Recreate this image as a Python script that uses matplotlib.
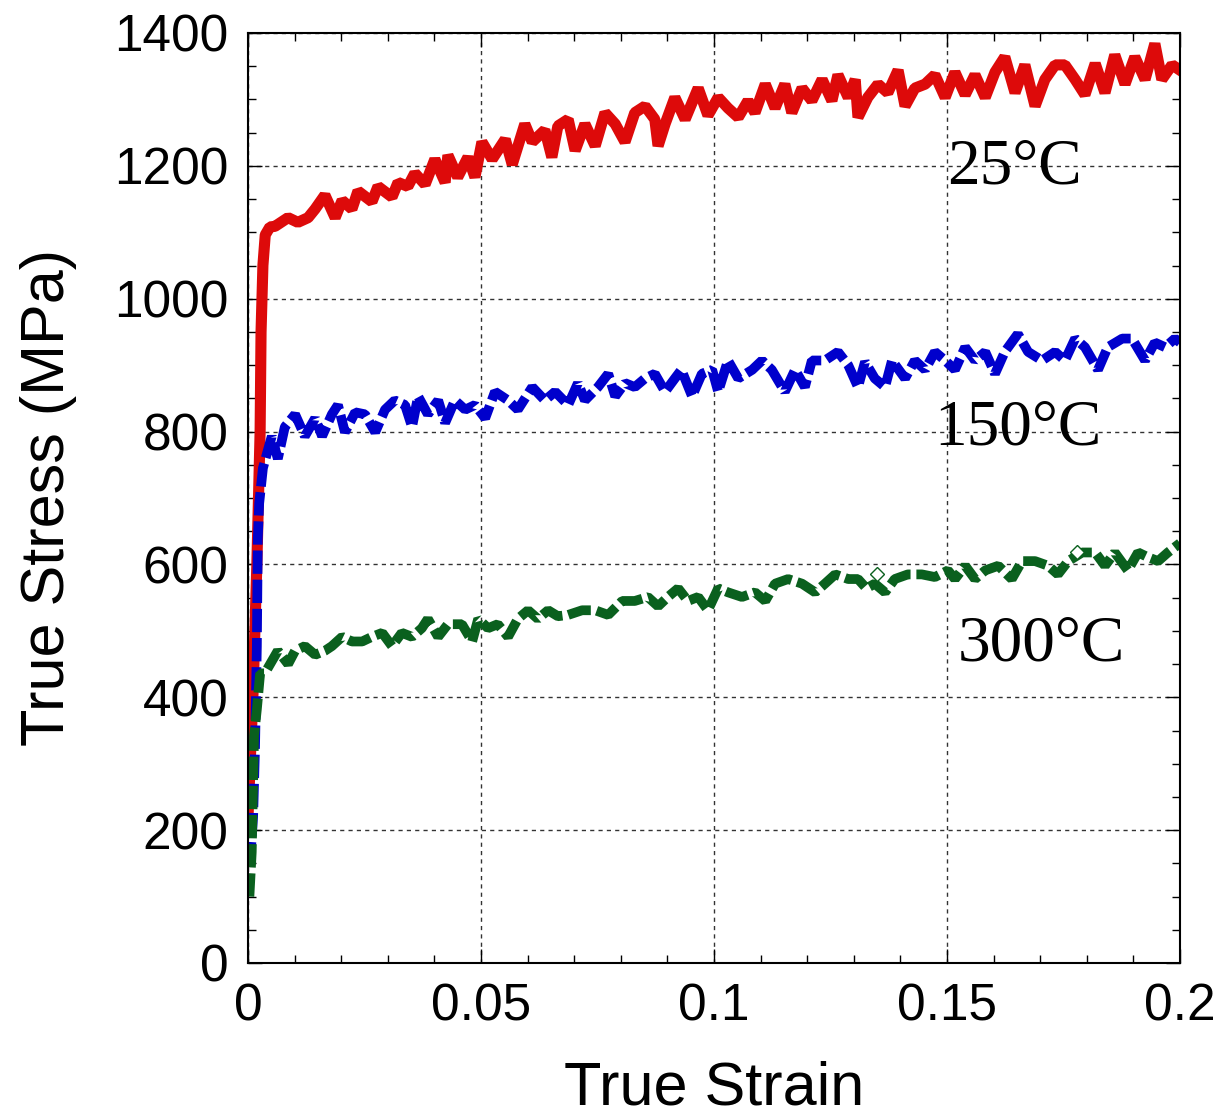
import matplotlib
matplotlib.use("Agg")
import matplotlib.pyplot as plt
from matplotlib.ticker import MultipleLocator

# strain / stress
strain_25 = [0.0, 0.0011, 0.0019, 0.0026, 0.0028, 0.0032, 0.0037, 0.0047, 0.0058, 0.0086,
             0.0107, 0.0129, 0.0144, 0.0165, 0.0187, 0.0202, 0.0223, 0.0236, 0.0266, 0.0279,
             0.0309, 0.0322, 0.0343, 0.0358, 0.038, 0.0401, 0.0423, 0.0429, 0.045, 0.0472,
             0.0487, 0.0502, 0.0524, 0.0552, 0.0567, 0.0594, 0.061, 0.0637, 0.0652, 0.0665,
             0.0687, 0.0702, 0.0723, 0.0745, 0.0766, 0.0788, 0.0809, 0.083, 0.0852, 0.0873,
             0.088, 0.0895, 0.0916, 0.0938, 0.0966, 0.0987, 0.1009, 0.103, 0.1052, 0.1073,
             0.1088, 0.111, 0.1131, 0.1152, 0.1167, 0.1189, 0.121, 0.1232, 0.1253, 0.1266,
             0.1288, 0.1303, 0.1309, 0.133, 0.1352, 0.1373, 0.1395, 0.141, 0.1431, 0.1453,
             0.1474, 0.1496, 0.1517, 0.1539, 0.156, 0.1582, 0.1603, 0.1624, 0.1646, 0.1667,
             0.1689, 0.171, 0.1732, 0.1753, 0.1775, 0.1796, 0.1818, 0.1839, 0.186, 0.1882,
             0.1903, 0.1925, 0.1946, 0.1961, 0.1983, 0.2]
stress_25 = [220, 410, 600, 800, 950, 1050, 1096, 1108, 1109, 1122,
             1115, 1122, 1135, 1156, 1122, 1148, 1135, 1162, 1146, 1169,
             1153, 1175, 1169, 1189, 1172, 1210, 1175, 1216, 1183, 1213,
             1183, 1236, 1210, 1240, 1202, 1263, 1236, 1254, 1213, 1260,
             1270, 1223, 1263, 1230, 1280, 1263, 1236, 1280, 1290, 1270,
             1230, 1263, 1303, 1270, 1317, 1276, 1303, 1287, 1273, 1298,
             1280, 1323, 1287, 1323, 1280, 1317, 1298, 1330, 1298, 1337,
             1303, 1330, 1273, 1303, 1323, 1310, 1344, 1290, 1317, 1323,
             1337, 1303, 1341, 1307, 1337, 1303, 1341, 1364, 1310, 1352,
             1290, 1330, 1352, 1352, 1330, 1307, 1354, 1310, 1367, 1323,
             1364, 1330, 1384, 1330, 1352, 1344]

strain_150 = [0.0004, 0.0011, 0.0015, 0.0019, 0.0021, 0.0024, 0.0032, 0.0051, 0.0064, 0.0079,
              0.0101, 0.0122, 0.0144, 0.0159, 0.018, 0.0193, 0.0208, 0.023, 0.0251, 0.0273,
              0.0294, 0.0315, 0.0337, 0.0352, 0.0365, 0.0386, 0.0408, 0.0423, 0.0444, 0.0466,
              0.0487, 0.0509, 0.053, 0.0558, 0.0579, 0.061, 0.0637, 0.0659, 0.0687, 0.0708,
              0.0723, 0.0751, 0.0773, 0.0788, 0.0809, 0.083, 0.0852, 0.0873, 0.0895, 0.0916,
              0.093, 0.0953, 0.0974, 0.0996, 0.1009, 0.103, 0.1052, 0.1082, 0.1103, 0.1124,
              0.1152, 0.1174, 0.1195, 0.121, 0.1238, 0.1266, 0.1288, 0.1309, 0.1324, 0.1345,
              0.1367, 0.1382, 0.141, 0.1431, 0.1453, 0.1474, 0.1496, 0.1517, 0.1539, 0.156,
              0.1582, 0.1603, 0.1624, 0.1652, 0.1674, 0.1704, 0.1732, 0.1753, 0.1775, 0.1796,
              0.1824, 0.1845, 0.1876, 0.1897, 0.1925, 0.1946, 0.1968, 0.1989, 0.2]
stress_150 = [147, 221, 322, 477, 638, 692, 745, 793, 759, 807,
              826, 793, 820, 793, 826, 840, 799, 829, 826, 799,
              833, 847, 840, 807, 853, 826, 847, 813, 847, 833,
              840, 820, 860, 847, 833, 867, 847, 860, 840, 873,
              847, 867, 887, 853, 873, 867, 880, 887, 860, 880,
              893, 853, 887, 893, 860, 907, 880, 893, 907, 893,
              860, 893, 867, 907, 907, 920, 900, 867, 905, 880,
              867, 907, 880, 907, 893, 920, 907, 893, 927, 907,
              920, 887, 920, 947, 920, 907, 920, 907, 940, 927,
              893, 927, 940, 940, 907, 934, 927, 940, 934]

strain_300 = [0.0003, 0.0008, 0.0011, 0.0013, 0.0019, 0.0026, 0.0036, 0.0064, 0.0086, 0.0101,
              0.0122, 0.0144, 0.0165, 0.018, 0.0202, 0.0223, 0.0245, 0.0266, 0.0288, 0.0309,
              0.033, 0.0352, 0.0373, 0.0386, 0.0408, 0.0429, 0.0459, 0.0481, 0.0494, 0.0515,
              0.0536, 0.0558, 0.0579, 0.0601, 0.0622, 0.0644, 0.0665, 0.0687, 0.0717, 0.0745,
              0.0773, 0.0803, 0.083, 0.0858, 0.088, 0.0901, 0.0923, 0.0944, 0.0966, 0.0987,
              0.1009, 0.103, 0.106, 0.1088, 0.111, 0.1131, 0.1159, 0.1189, 0.1217, 0.1238,
              0.126, 0.1288, 0.1309, 0.1327, 0.1345, 0.1367, 0.1388, 0.1416, 0.1446, 0.1474,
              0.1502, 0.1517, 0.1539, 0.156, 0.1582, 0.161, 0.1639, 0.1661, 0.1689, 0.1717,
              0.1738, 0.176, 0.179, 0.1818, 0.1839, 0.186, 0.1888, 0.191, 0.1931, 0.1953,
              0.1974, 0.2]
stress_300 = [100, 167, 275, 342, 382, 436, 436, 470, 450, 470,
              477, 464, 470, 477, 491, 484, 484, 491, 497, 477,
              497, 491, 504, 518, 491, 510, 510, 484, 518, 504,
              510, 491, 518, 531, 518, 531, 522, 524, 531, 531,
              524, 545, 545, 551, 537, 551, 564, 545, 551, 531,
              564, 558, 551, 558, 545, 571, 578, 571, 558, 571,
              585, 578, 578, 564, 571, 558, 578, 585, 585, 581,
              591, 578, 598, 578, 591, 598, 578, 605, 605, 598,
              585, 605, 618, 618, 598, 618, 591, 618, 611, 605,
              618, 632]

# two stray open-diamond markers on the 300C curve
marker_strain = [0.135, 0.178]
marker_stress = [585, 618]

labels = ["25°C", "150°C", "300°C"]
label_x = [0.1644, 0.1652, 0.1702]
label_y = [1174, 780, 456]

x_ticks = [0, 0.05, 0.1, 0.15, 0.2]
x_ticklabels = ["0", "0.05", "0.1", "0.15", "0.2"]

fig = plt.figure(figsize=(12.3, 11.18), dpi=100)
ax = fig.add_axes([248 / 1230, 1 - 963 / 1118, 932 / 1230, 930 / 1118])

ax.plot(strain_25, stress_25, color="#dd0a0a", lw=8, solid_joinstyle="bevel")
ax.plot(strain_150, stress_150, color="#0000cc", lw=7, dashes=(2.4, 0.6),
        dash_capstyle="butt", dash_joinstyle="bevel")
ax.plot(strain_300, stress_300, color="#0a601e", lw=7, dashes=(2.4, 0.6),
        dash_capstyle="butt", dash_joinstyle="bevel")
ax.plot(marker_strain, marker_stress, ls="none", marker="D", ms=7, mfc="white",
        mec="#0a601e", mew=1)

for t, x, y in zip(labels, label_x, label_y):
    ax.text(x, y, t, family="Liberation Serif", fontsize=47, ha="center", va="baseline")

ax.set_xlim(0, 0.2)
ax.set_ylim(0, 1400)
ax.set_xticks(x_ticks, x_ticklabels)
ax.xaxis.set_minor_locator(MultipleLocator(0.01))
ax.yaxis.set_major_locator(MultipleLocator(200))
ax.yaxis.set_minor_locator(MultipleLocator(50))

ax.grid(True, which="major", color="#333333", lw=1, ls=(0, (3, 3)))
ax.tick_params(which="both", direction="in", top=True, right=True, width=1,
               labelsize=37, pad=14)
ax.tick_params(which="major", length=10)
ax.tick_params(which="minor", length=6)
for lab in ax.get_xticklabels() + ax.get_yticklabels():
    lab.set_family("Liberation Sans")
for s in ax.spines.values():
    s.set_linewidth(1.5)

ax.set_xlabel("True Strain", family="Liberation Sans", fontsize=44)
ax.set_ylabel("True Stress (MPa)", family="Liberation Sans", fontsize=44)
ax.xaxis.set_label_coords(0.5, -0.105)
ax.yaxis.set_label_coords(-0.183, 0.5)

fig.savefig("out.png", dpi=100)
